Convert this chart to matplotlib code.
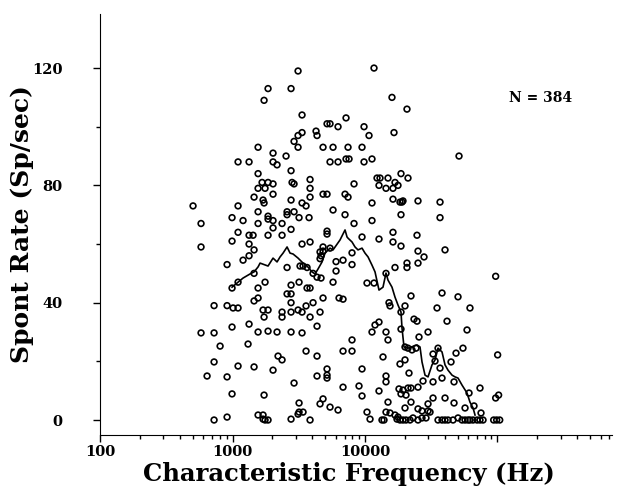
import matplotlib
matplotlib.use("Agg")
import matplotlib.pyplot as plt
from matplotlib.ticker import FixedLocator, LogLocator, NullFormatter

# Fibras individuales: CF (Hz) y tasa espontanea (Sp/sec)
cf = [1558, 1100, 1332, 1558, 3122, 1853, 2764, 1729, 3346, 5167, 5443, 6256,
      4268, 4342, 3346, 3122, 2912, 3122, 4820, 5735, 2021, 2534, 2021, 2167,
      5443, 6256, 2764, 3846, 11690, 15980, 20740, 7189, 9829, 10720, 16550,
      7443, 9493, 7189, 7574, 9829, 11290, 12320, 12980, 14910, 18690, 21110,
      51250,
      503, 578, 578, 1100, 991, 1200, 1453, 1558, 1558, 1558, 1100, 1332, 1428,
      991, 1332, 1453, 1332, 1200, 909, 1453, 1100, 991, 1558, 1558, 1453,
      1670, 1853, 2021, 1759, 2813, 2912, 3846, 2021, 4820, 5167, 3846, 1699,
      1729, 2764, 3346, 3587, 5735, 2579, 2579, 2912, 1853, 1853, 2021, 3177,
      3780, 2364, 2021, 2764, 1853, 2364, 5167, 5167, 3846, 3346, 4820, 5443,
      4575, 4820, 4655, 4575, 6042, 2579, 3232, 3405, 3650, 4052, 4342, 4655,
      6042, 1759, 5735, 3177, 2764, 3650, 3846, 2579, 2764, 4820, 6366, 2764,
      4052,
      8260, 12750, 14400, 16840, 16260, 17740, 7065, 7443, 11290, 16260, 18370,
      19020, 19350, 25120, 7065, 18690, 8260, 11290, 16260, 24690, 9493, 12750,
      16260, 18690, 7977, 25120, 6823, 7977, 20740, 20740, 25120, 16840, 14400,
      10350, 11690, 22240, 6823, 15170,
      36840, 36840, 27890, 40180, 96900, 38140, 50370,
      725, 909, 1009, 1100, 578, 725, 991, 1332, 1558, 805, 1309, 725, 1100,
      1453, 642, 909, 991, 1558, 909, 725,
      1699, 1853, 1729, 2364, 2364, 2764, 3122, 3346, 3587, 3846, 4575, 4342,
      1853, 2167, 2764, 3346, 2205, 2364, 2021, 3587, 4342, 5167, 5167, 5167,
      4342, 2912, 1729, 3177, 4820, 4575, 5443, 6256, 1699, 1699, 1759, 1853,
      2764, 3177, 3405, 3122, 3846,
      15440, 20040, 18690, 23430, 24690, 11900, 12750, 11290, 14400, 18690,
      7977, 14910, 25560, 6823, 7977, 20040, 21110, 22630, 24260, 13670, 20040,
      18370, 9493, 21480, 14400, 14400, 6823, 9008, 12750, 18050, 19350, 21110,
      22240, 25120, 18690, 20390, 9493, 14910, 22240, 25120, 10350, 14400,
      15440, 20040, 16840, 17740, 10910, 13430, 13910, 17430, 18370, 19350,
      20390, 21860, 23030, 25120,
      34970, 62000, 41600, 58900, 29900, 35580, 54900, 48650, 32620, 33770,
      100300, 44600, 36840, 27410, 32620, 38140, 46990, 73800, 61000, 96900,
      102000, 32620, 40180, 29900, 46990, 66500, 26930, 29900, 30960, 56900,
      75100, 26930, 28870,
      35580, 38140, 40180, 42330, 46180, 50370, 54000, 56900, 59900, 62000,
      65400, 70100, 73800, 77800, 93600, 98600, 104000]
rate = [93, 88, 88, 84, 119, 113, 113, 109, 104, 101, 101, 100,
        98.5, 97, 98, 97, 95, 93, 93, 93, 91, 90, 88, 87,
        88, 88, 85, 82, 120, 110, 106, 103, 100, 97, 98,
        93, 93, 89, 89, 88, 89, 82.5, 82.5, 82.5, 84, 82.5,
        90,
        73, 67, 59, 73, 69, 68, 76, 79, 71, 67, 64, 63, 63,
        61, 60, 58, 56, 54.5, 53, 50, 47, 45, 45, 41.6, 40.6,
        81, 81, 80.5, 79, 81, 80.5, 79, 77, 77, 77, 76, 75,
        74, 75, 74, 73, 71.6, 71, 70, 71, 69.5, 68.5, 68, 69,
        69, 67, 65.5, 65, 63, 63, 64.4, 63.4, 60.7, 60, 59, 58.6,
        57.3, 57.6, 56, 55, 54, 52, 52.5, 52.5, 52, 50, 48.7, 48.4,
        50.8, 47, 47, 47, 46, 45, 45, 43, 43, 41.6, 41.6, 40,
        40,
        80.5, 80, 79, 81, 79, 80, 77, 76, 74, 75.3, 74.3,
        74.3, 74.7, 74.7, 70, 70, 67, 68, 64, 63, 62.4, 61.7,
        60.7, 59.3, 57, 57.6, 54.5, 53, 53.5, 52, 53.5, 52, 50,
        46.7, 46.7, 42.3, 41.2, 40,
        74.3, 69, 55.6, 58, 49, 43.3, 42,
        39, 39, 38.2, 38.2, 29.7, 29.7, 31.7, 32.7, 30, 25.2, 25.9, 19.8, 18.4,
        18.1, 15, 14.7, 8.9, 1.7, 1, 0,
        37.5, 37.5, 35.1, 36.8, 35.1, 36.8, 37.5, 36.8, 38.9, 35.1, 36.8, 32,
        30.3, 30, 30, 29.7, 21.8, 20.5, 17, 23.5, 21.8, 17.4, 15.3, 14.3,
        15, 12.6, 8.5, 5.8, 7.2, 5.5, 4.4, 3.4, 1.7, 0.3, 0, 0,
        0.3, 2.7, 2.7, 2, 0,
        38.9, 38.9, 36.8, 34.4, 33.7, 32.4, 33.4, 30, 30, 31,
        27.3, 27.3, 28.3, 23.5, 23.5, 24.9, 24.5, 23.9, 24.5, 21.5, 20.5,
        19.1, 17.4, 16, 15, 13, 11.2, 11.6, 9.9, 10.6, 10.2, 10.9,
        10.9, 11.2, 8.9, 8.5, 8.2, 6.1, 6.1, 3.8, 2.7, 2.7,
        2.4, 4.1, 1.7, 1, 0.3, 0, 0, 0.3, 0, 0,
        0, 0, 0.7, 0,
        38.2, 38.2, 33.7, 30.7, 30, 24.5, 24.5, 22.8, 22.5, 20.1,
        22.2, 19.8, 17.7, 13.3, 13, 14.3, 13, 10.9, 9.2, 7.5,
        8.5, 7.5, 7.5, 5.5, 5.8, 4.8, 3.1, 3.1, 2.7, 4.1,
        2.4, 0.7, 0.7,
        0, 0, 0, 0, 0, 0.7, 0, 0, 0, 0,
        0, 0, 0, 0, 0, 0, 0]

# Promedio movil
cf_media = [991, 1100, 1200, 1355, 1453, 1558, 1613, 1853, 2021, 2167, 2283,
            2405, 2579, 2717, 2862, 3122, 3405, 3650, 3982, 4195, 4419, 4737,
            4990, 5443, 5735, 6477, 7065, 7315, 7443, 7977, 8405, 8852, 9493,
            10000, 10540, 11290, 11900, 12750, 13670, 14400, 14910, 15980,
            16840, 17740, 18690, 19020, 19690, 21110, 24690, 26010, 26930,
            28380, 29900, 32050, 33770, 35580, 38140, 40180, 42330, 45380,
            47810, 50370, 54000, 58900, 62000, 65400, 67700]
rate_media = [45.3, 47, 48.4, 49.8, 50.5, 52.2, 53.5, 52.5, 55.2, 53.9, 55.6,
              56.9, 59, 56.9, 56.6, 55.2, 53.5, 52.5, 50.5, 49.8, 51.5, 53.9,
              56.9, 58.6, 58, 61.4, 64.8, 62.4, 62, 60.7, 59, 58, 58.6,
              56.9, 55.6, 52.8, 50.5, 44.3, 45.3, 50.1, 47.7, 45.3,
              41.9, 39.2, 36.8, 31.4, 24.9, 24.5, 25.6, 24.9, 19.8,
              15.3, 14.7, 18.8, 20.5, 24.5, 23.2, 18.8, 17, 15.3,
              14.7, 14.3, 11.9, 9.2, 6.1, 4.1, 1.7]

plt.rcParams['font.family'] = 'DejaVu Serif'
plt.rcParams['font.weight'] = 'bold'

fig = plt.figure(figsize=(6.18, 4.86), dpi=100)
ax = fig.add_axes([0.162, 0.105, 0.828, 0.866])

ax.scatter(cf, rate, s=17, facecolors='none', edgecolors='black', linewidths=1.2)
ax.plot(cf_media, rate_media, color='black', lw=1.2)

ax.set_xscale('log')
ax.set_xlim(100, 7.3e5)
ax.set_ylim(-5.1, 138.4)

ax.spines['top'].set_visible(False)
ax.spines['right'].set_visible(False)

ax.xaxis.set_major_locator(FixedLocator([100, 1000, 10000, 100000]))
ax.set_xticklabels(['100', '1000', '10000', ''])
ax.xaxis.set_minor_locator(LogLocator(base=10, subs=range(2, 10)))
ax.xaxis.set_minor_formatter(NullFormatter())
ax.set_yticks([0, 40, 80, 120])
ax.yaxis.set_minor_locator(FixedLocator([20, 60, 100]))
ax.tick_params(which='major', length=5, width=1, labelsize=10.5)
ax.tick_params(which='minor', length=3, width=1)
ax.tick_params(axis='x', which='major', pad=2)
ax.tick_params(axis='y', which='major', pad=22)

fig.text(0.565, 0.011, 'Characteristic Frequency (Hz)', fontsize=17.5,
         ha='center', va='baseline')
fig.text(0.036, 0.539, 'Spont Rate (Sp/sec)', fontsize=18, rotation=90,
         ha='center', va='center')
ax.text(0.80, 0.79, 'N = 384', transform=ax.transAxes, fontsize=10,
        fontweight='bold')

fig.savefig('out.png', dpi=100)
